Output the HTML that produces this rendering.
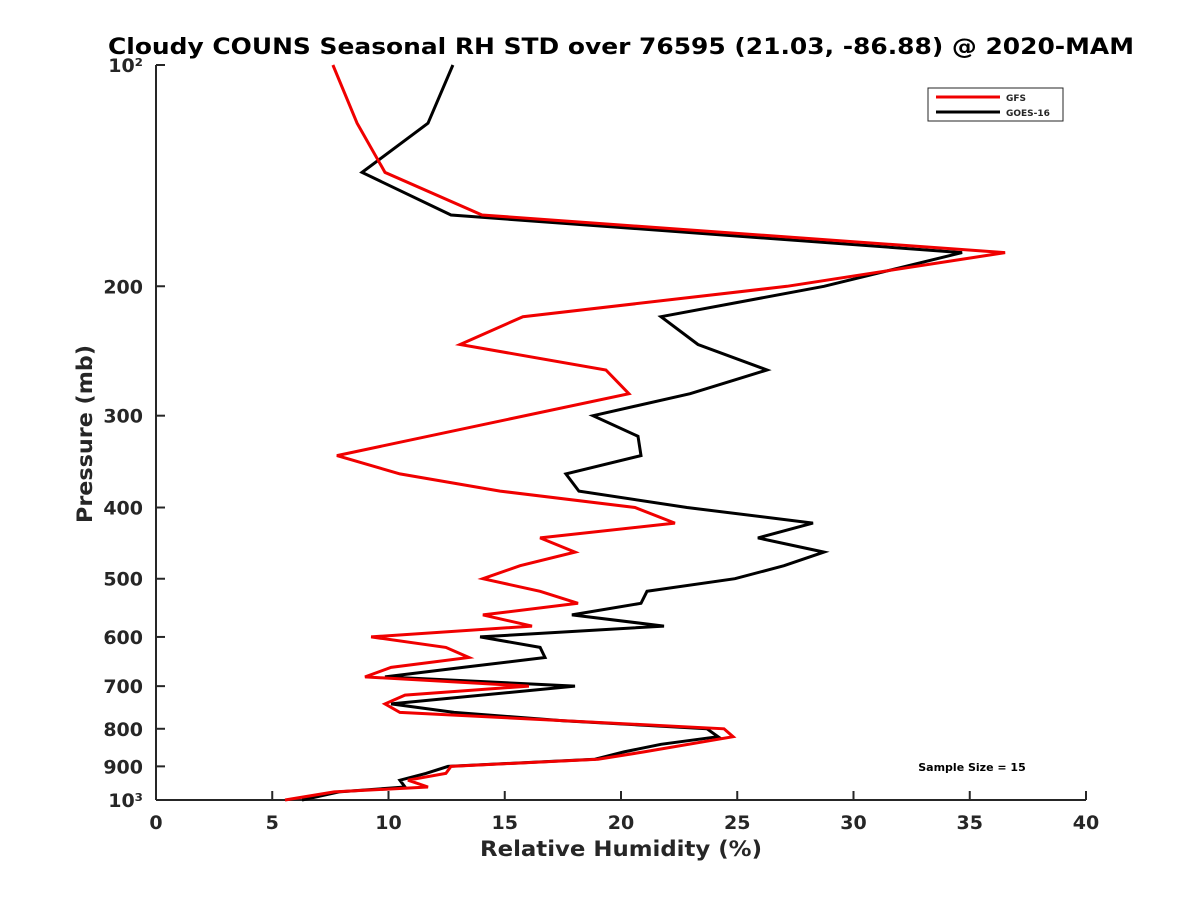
<!DOCTYPE html>
<html><head><meta charset="utf-8"><style>
body{margin:0;background:#fff;}
svg text{font-family:"DejaVu Sans","Liberation Sans",sans-serif;font-weight:bold;fill:#262626;}
</style></head><body>
<svg id="chart" width="1200" height="900" xmlns="http://www.w3.org/2000/svg">
<rect width="1200" height="900" fill="#fff"/>
<text x="621" y="54" font-size="22" text-anchor="middle" textLength="1026" lengthAdjust="spacingAndGlyphs" style="fill:#000">Cloudy COUNS Seasonal RH STD over 76595 (21.03, -86.88) @ 2020-MAM</text>
<g id="axes"></g>
<g id="series"></g>
<text x="621" y="856" font-size="21" text-anchor="middle" textLength="282" lengthAdjust="spacingAndGlyphs">Relative Humidity (%)</text>
<text transform="translate(92,434) rotate(-90)" font-size="21" text-anchor="middle" textLength="178" lengthAdjust="spacingAndGlyphs">Pressure (mb)</text>
<g>
<rect x="928" y="88" width="135" height="33" fill="#fff" stroke="#262626" stroke-width="1"/>
<line x1="936" y1="97" x2="1000" y2="97" stroke="#f00000" stroke-width="3"/>
<text x="1006" y="101" font-size="9">GFS</text>
<line x1="936" y1="112" x2="1000" y2="112" stroke="#000" stroke-width="3"/>
<text x="1006" y="116" font-size="9">GOES-16</text>
</g>
<text x="972" y="771" font-size="11" text-anchor="middle" style="fill:#000">Sample Size = 15</text>
</svg>
<script>
const gfsPressure=[100,120,140,160,180,200,220,240,260,280,340,360,380,400,420,440,460,480,500,520,540,560,580,600,620,640,660,680,700,720,740,760,800,820,860,880,900,920,940,960,975,1000];
const gfsValues=[7.61,8.65,9.85,14.02,36.52,27.14,15.78,13.08,19.35,20.34,7.78,10.49,14.80,20.60,22.32,16.52,18.02,15.66,14.06,16.52,18.15,14.06,16.17,9.25,12.47,13.46,10.11,8.99,16.04,10.71,9.85,10.49,24.43,24.82,20.99,19.01,12.69,12.47,10.84,11.70,7.66,5.55];
const goesPressure=[100,120,140,160,180,200,220,240,260,280,300,320,340,360,380,400,420,440,460,480,500,520,540,560,580,600,620,640,660,680,700,740,760,780,800,820,840,860,880,900,920,940,960,975,1000];
const goesValues=[12.77,11.70,8.86,12.69,34.67,28.73,21.72,23.31,26.28,22.97,18.80,20.73,20.86,17.63,18.19,22.84,28.26,25.89,28.73,27.01,24.90,21.12,20.86,17.89,21.85,13.94,16.52,16.73,13.20,9.85,18.02,10.11,12.82,17.51,23.70,24.17,21.72,20.13,18.88,12.56,11.61,10.49,10.71,7.87,6.28];
const xTicks=[0,5,10,15,20,25,30,35,40];
const yTicks=[100,200,300,400,500,600,700,800,900,1000];
const yTickLabels=["10²","200","300","400","500","600","700","800","900","10³"];
const L=156,R=1086,T=65,B=800;
const X=v=>L+(v-0)/(40-0)*(R-L);
const Y=p=>T+(Math.log10(p)-2)*(B-T);
const NS="http://www.w3.org/2000/svg";
const ax=document.getElementById('axes');
function mk(t,a,p){const e=document.createElementNS(NS,t);for(const k in a)e.setAttribute(k,a[k]);p.appendChild(e);return e;}
let e=mk('line',{x1:L,y1:T,x2:L,y2:B,stroke:'#262626','stroke-width':2},ax);


e=mk('line',{x1:L,y1:B,x2:R,y2:B,stroke:'#262626','stroke-width':2},ax);


xTicks.forEach(v=>{
 mk('line',{x1:X(v),y1:B,x2:X(v),y2:B-9,stroke:'#262626','stroke-width':2},ax);
 const t=mk('text',{x:X(v),y:B+29,'font-size':19,'text-anchor':'middle'},ax);
 t.textContent=v;
 
 
});
yTicks.forEach((p,i)=>{
 mk('line',{x1:L,y1:Y(p),x2:L+9,y2:Y(p),stroke:'#262626','stroke-width':2},ax);
 const t=mk('text',{x:L-13,y:Y(p)+7,'font-size':19,'text-anchor':'end'},ax);
 t.textContent=yTickLabels[i];
 
 
});
const sg=document.getElementById('series');
function line(pr,vals,color){
 const d=vals.map((v,i)=>(i?'L':'M')+X(v).toFixed(1)+','+Y(pr[i]).toFixed(1)).join(' ');
 return mk('path',{d:d,fill:'none',stroke:color,'stroke-width':3,'stroke-linejoin':'miter'},sg);
}
const g1=line(goesPressure,goesValues,'#000');


const g2=line(gfsPressure,gfsValues,'#f00000');


</script>
</body></html>
